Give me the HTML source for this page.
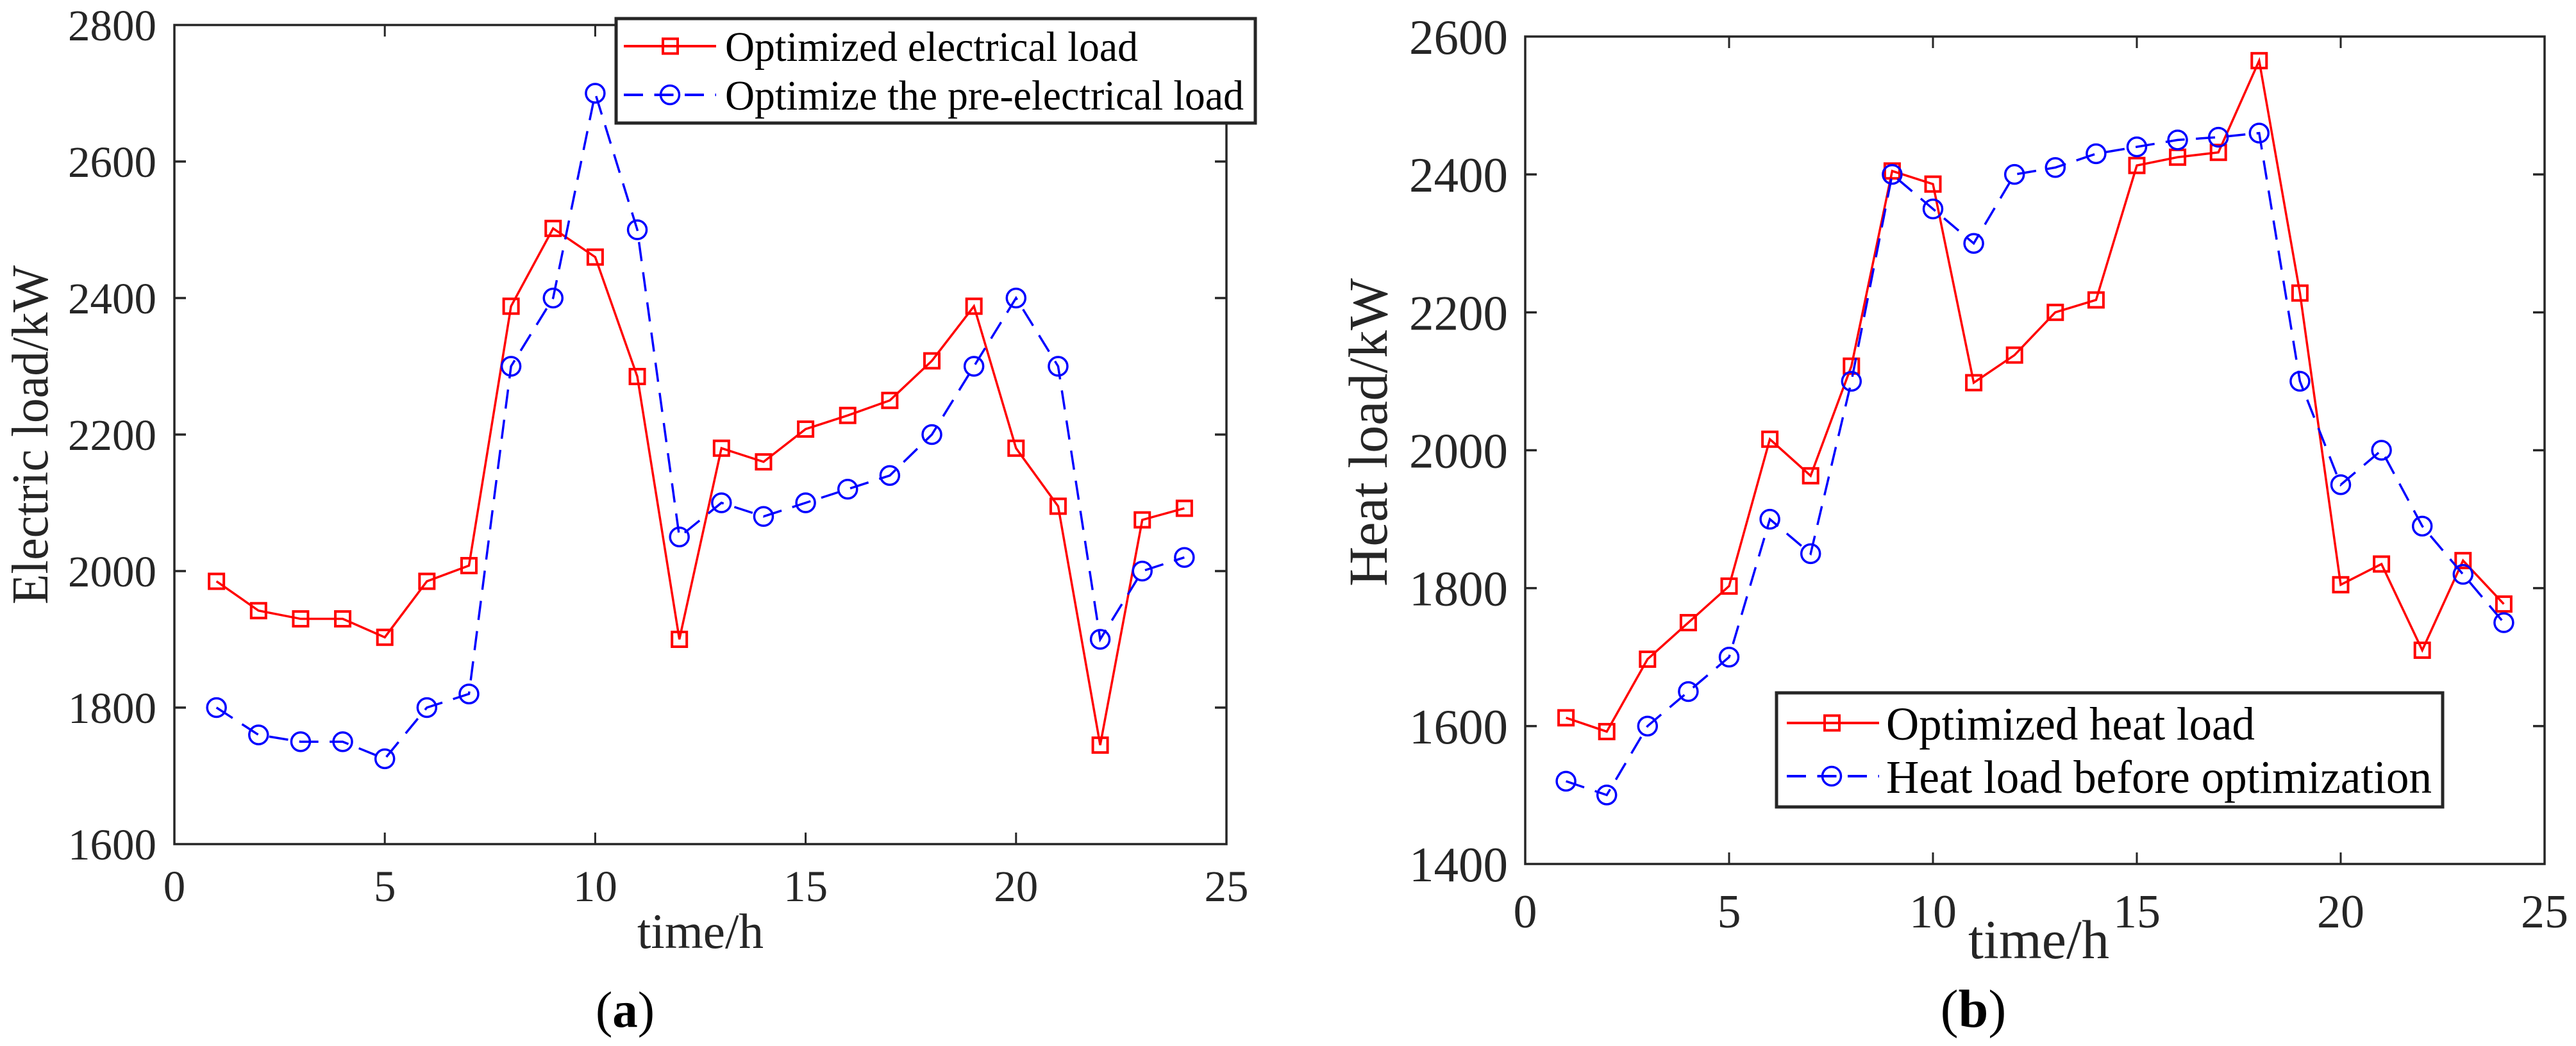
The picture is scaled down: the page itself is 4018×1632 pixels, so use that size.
<!DOCTYPE html>
<html lang="en">
<head>
<meta charset="utf-8">
<title>Load curves</title>
<style>
html,body{margin:0;padding:0;background:#fff;}
svg{display:block;}
text{font-family:"Liberation Serif",serif;}
</style>
</head>
<body>
<svg id="fig" xmlns="http://www.w3.org/2000/svg" width="4018" height="1632" viewBox="0 0 4018 1632">
  <rect x="0" y="0" width="4018" height="1632" fill="#fff"/>
  <g id="panel-a"></g>
  <g id="panel-b"></g>

  <g>
    <rect x="961" y="29" width="997" height="163" fill="#fff" stroke="#262626" stroke-width="5"/>
    <g>
      <line x1="973" y1="72" x2="1117" y2="72" stroke="#ff0000" stroke-width="4"/>
      <rect x="1034" y="60.500" width="23" height="23" fill="none" stroke="#ff0000" stroke-width="4"/>
      <text x="1131" y="95" font-size="66" fill="#000" textLength="644" lengthAdjust="spacingAndGlyphs">Optimized electrical load</text>
    </g>
    <g>
      <line x1="973" y1="148" x2="1117" y2="148" stroke="#0000ff" stroke-width="4" stroke-dasharray="30 17.500"/>
      <circle cx="1045" cy="148" r="14.500" fill="none" stroke="#0000ff" stroke-width="3.500"/>
      <text x="1131" y="171" font-size="66" fill="#000" textLength="809" lengthAdjust="spacingAndGlyphs">Optimize the pre-electrical load</text>
    </g>
  </g>

  <g>
    <rect x="2771" y="1081" width="1039" height="178" fill="#fff" stroke="#262626" stroke-width="5"/>
    <g>
      <line x1="2787" y1="1128" x2="2931" y2="1128" stroke="#ff0000" stroke-width="4"/>
      <rect x="2846" y="1116.500" width="23" height="23" fill="none" stroke="#ff0000" stroke-width="4"/>
      <text x="2942" y="1154" font-size="73" fill="#000" textLength="575" lengthAdjust="spacingAndGlyphs">Optimized heat load</text>
    </g>
    <g>
      <line x1="2787" y1="1211" x2="2931" y2="1211" stroke="#0000ff" stroke-width="4" stroke-dasharray="30 17.500"/>
      <circle cx="2857" cy="1211" r="14.500" fill="none" stroke="#0000ff" stroke-width="3.500"/>
      <text x="2942" y="1237" font-size="73" fill="#000" textLength="851" lengthAdjust="spacingAndGlyphs">Heat load before optimization</text>
    </g>
  </g>

  <text x="975" y="1602" font-size="79" text-anchor="middle" fill="#000">(<tspan font-weight="bold">a</tspan>)</text>
  <text x="3078" y="1602" font-size="84" text-anchor="middle" fill="#000">(<tspan font-weight="bold">b</tspan>)</text>
</svg>
<script>
var hours = [1,2,3,4,5,6,7,8,9,10,11,12,13,14,15,16,17,18,19,20,21,22,23,24];
var xTickValues = [0,5,10,15,20,25];

var electricTicks = [1600,1800,2000,2200,2400,2600,2800];
var electricOptimized = [1985,1942,1930,1930,1903,1985,2008,2388,2502,2460,2285,1900,2180,2160,2208,2228,2250,2308,2388,2180,2095,1745,2075,2092];
var electricBefore = [1800,1760,1750,1750,1725,1800,1820,2300,2400,2700,2500,2050,2100,2080,2100,2120,2140,2200,2300,2400,2300,1900,2000,2020];

var heatTicks = [1400,1600,1800,2000,2200,2400,2600];
var heatOptimized = [1612,1592,1697,1750,1803,2016,1963,2122,2405,2386,2098,2138,2200,2218,2413,2425,2432,2565,2228,1805,1835,1710,1840,1777];
var heatBefore = [1520,1500,1600,1650,1700,1900,1850,2100,2400,2350,2300,2400,2410,2430,2440,2450,2454,2460,2100,1950,2000,1890,1820,1750];

var NS = 'http://www.w3.org/2000/svg';

function make(parent, tag, attrs, txt) {
  var el = document.createElementNS(NS, tag);
  for (var k in attrs) el.setAttribute(k, attrs[k]);
  if (txt !== undefined) el.textContent = txt;
  parent.appendChild(el);
  return el;
}

function drawPanel(parent, o) {
  function sx(v) { return o.left + (v - o.xMin) / (o.xMax - o.xMin) * (o.right - o.left); }
  function sy(v) { return o.bottom - (v - o.yMin) / (o.yMax - o.yMin) * (o.bottom - o.top); }

  var frame = make(parent, 'rect', {x:o.left, y:o.top, width:o.right-o.left, height:o.bottom-o.top, fill:'none', stroke:'#262626', 'stroke-width':3.5});
  
  

  o.xTicks.forEach(function (t) {
    var x = sx(t);
    if (t !== o.xMin && t !== o.xMax) {
      var t1 = make(parent, 'line', {x1:x, x2:x, y1:o.bottom, y2:o.bottom-18, stroke:'#262626', 'stroke-width':3});
      
      
      var t2 = make(parent, 'line', {x1:x, x2:x, y1:o.top, y2:o.top+18, stroke:'#262626', 'stroke-width':3});
      
      
    }
    var lab = make(parent, 'text', {x:x, y:o.xLabelY, 'font-size':o.xFont, 'text-anchor':'middle', fill:'#262626'}, String(t));
    
    
  });

  o.yTicks.forEach(function (t) {
    var y = sy(t);
    if (t !== o.yMin && t !== o.yMax) {
      var t1 = make(parent, 'line', {x1:o.left, x2:o.left+18, y1:y, y2:y, stroke:'#262626', 'stroke-width':3.5});
      
      
      var t2 = make(parent, 'line', {x1:o.right, x2:o.right-18, y1:y, y2:y, stroke:'#262626', 'stroke-width':3.5});
      
      
    }
    var lab = make(parent, 'text', {x:o.yLabelX, y:y+o.yLabelDy, 'font-size':o.yFont, 'text-anchor':'end', fill:'#262626'}, String(t));
    
    
  });

  var yTitle = make(parent, 'text', {x:0, y:0, 'font-size':o.yTitleFont, fill:'#262626', textLength:o.yTitleLen, lengthAdjust:'spacingAndGlyphs',
    transform:'translate('+o.yTitleX+','+o.yTitleStart+') rotate(-90)'}, o.yTitle);
  
  

  var xTitle = make(parent, 'text', {x:o.xTitleX, y:o.xTitleY, 'font-size':o.xTitleFont, fill:'#262626', textLength:o.xTitleLen, lengthAdjust:'spacingAndGlyphs'}, 'time/h');
  
  

  var redPts = o.xs.map(function (v, i) { return sx(v) + ',' + sy(o.red[i]); }).join(' ');
  var bluePts = o.xs.map(function (v, i) { return sx(v) + ',' + sy(o.blue[i]); }).join(' ');

  var redLine = make(parent, 'polyline', {points:redPts, fill:'none', stroke:'#ff0000', 'stroke-width':3.5, 'stroke-linejoin':'miter'});
  
  

  o.xs.forEach(function (v, i) {
    var m = make(parent, 'rect', {x:sx(v)-11.5, y:sy(o.red[i])-11.5, width:23, height:23, fill:'none', stroke:'#ff0000', 'stroke-width':4});
    
    
  });

  var blueLine = make(parent, 'polyline', {points:bluePts, fill:'none', stroke:'#0000ff', 'stroke-width':3.5, 'stroke-dasharray':'30 17.5'});
  
  

  o.xs.forEach(function (v, i) {
    var c = make(parent, 'circle', {cx:sx(v), cy:sy(o.blue[i]), r:14.5, fill:'none', stroke:'#0000ff', 'stroke-width':3.5});
    
    
  });
}

drawPanel(document.getElementById('panel-a'), {
  left:272, right:1913, top:39, bottom:1317,
  xMin:0, xMax:25, yMin:1600, yMax:2800,
  xs:hours, red:electricOptimized, blue:electricBefore,
  xTicks:xTickValues, yTicks:electricTicks,
  xLabelY:1406, xFont:69, yLabelX:244, yLabelDy:24, yFont:69,
  yTitle:'Electric load/kW', yTitleFont:80, yTitleLen:529, yTitleX:74, yTitleStart:943,
  xTitleX:994, xTitleY:1479, xTitleFont:77, xTitleLen:197
});

drawPanel(document.getElementById('panel-b'), {
  left:2379, right:3969, top:57, bottom:1348,
  xMin:0, xMax:25, yMin:1400, yMax:2600,
  xs:hours, red:heatOptimized, blue:heatBefore,
  xTicks:xTickValues, yTicks:heatTicks,
  xLabelY:1447, xFont:74, yLabelX:2352, yLabelDy:27, yFont:77,
  yTitle:'Heat load/kW', yTitleFont:86, yTitleLen:481, yTitleX:2163, yTitleStart:915,
  xTitleX:3070, xTitleY:1495, xTitleFont:86, xTitleLen:220
});
</script>
</body>
</html>
